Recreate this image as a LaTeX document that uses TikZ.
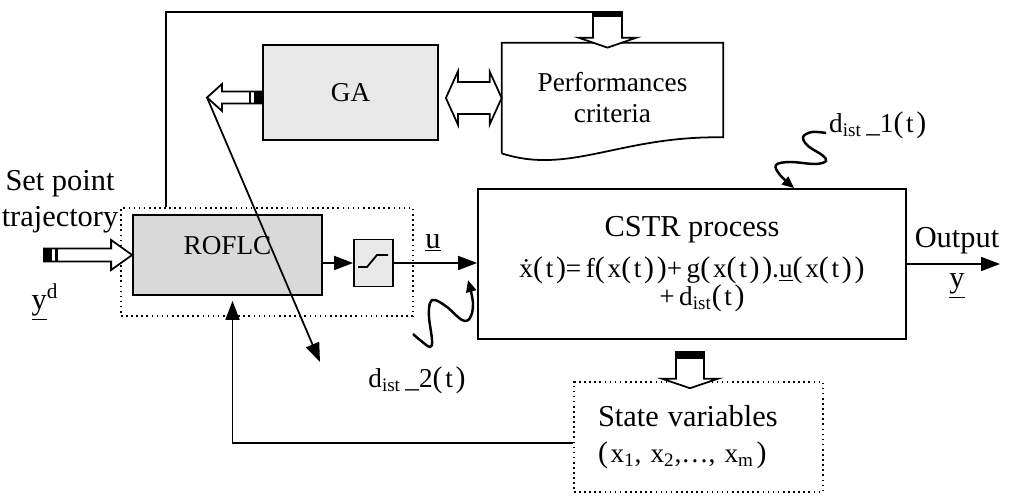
\documentclass[tikz,border=0pt]{standalone}
\usepackage{fontspec}
\setmainfont{Liberation Serif}
\usetikzlibrary{positioning,arrows.meta,calc}
\definecolor{gaFill}{HTML}{E8E8E8}
\definecolor{roflcFill}{HTML}{D9D9D9}
\definecolor{satFill}{HTML}{E8E8E8}
\newcommand{\bigtxt}{\fontsize{17.3}{20.5}\selectfont}
% tall, spaced parentheses of the formulas
\newcommand{\bp}[1]{{\fontsize{17}{17}\selectfont(}\hspace{0.1em}#1\hspace{0.1em}{\fontsize{17}{17}\selectfont)}}

% hollow arrow #1 -> #2 (shaft half width #3, head half width #4, head length #5)
\newcommand{\hollowarrow}[5]{%
  \draw[hollow] ($(#1)!#3!90:(#2)$)
    -- ($(#2)!#5!(#1)!#3!-90:(#1)$)
    -- ($(#2)!#5!(#1)!#4!-90:(#1)$)
    -- (#2)
    -- ($(#2)!#5!(#1)!#4!90:(#1)$)
    -- ($(#2)!#5!(#1)!#3!90:(#1)$)
    -- ($(#1)!#3!-90:(#2)$) -- cycle;}
% same, with a head at both ends
\newcommand{\hollowboth}[5]{%
  \draw[hollow] (#1)
    -- ($(#1)!#5!(#2)!#4!90:(#2)$)
    -- ($(#1)!#5!(#2)!#3!90:(#2)$)
    -- ($(#2)!#5!(#1)!#3!-90:(#1)$)
    -- ($(#2)!#5!(#1)!#4!-90:(#1)$)
    -- (#2)
    -- ($(#2)!#5!(#1)!#4!90:(#1)$)
    -- ($(#2)!#5!(#1)!#3!90:(#1)$)
    -- ($(#1)!#5!(#2)!#3!-90:(#2)$)
    -- ($(#1)!#5!(#2)!#4!-90:(#2)$) -- cycle;}
% black band across a hollow shaft, from #3 to #4 along #1 -> #2
\newcommand{\shaftband}[5]{%
  \fill ($(#1)!#3!(#2)!#5!90:(#2)$) rectangle ($(#1)!#4!(#2)!#5!-90:(#2)$);}

\begin{document}
\begin{tikzpicture}[
    >={Triangle[length=0.38cm,width=0.28cm]},
    font=\fontsize{15.5}{17.6}\selectfont,
    blk/.style={draw,line width=1pt,inner sep=0pt},
    dbox/.style={draw,dotted,line width=0.9pt,inner sep=0pt},
    flow/.style={->,line width=1pt},
    wave/.style={-{Triangle[length=0.24cm,width=0.2cm]},line width=1.4pt},
    hollow/.style={draw,fill=white,line width=1pt,line join=miter},
]
\useasboundingbox (0,0) rectangle (20.18,9.96);

% =====================================================================
%  GA and performance criteria
% =====================================================================
\node[blk,fill=gaFill,minimum width=3.5cm,minimum height=1.9cm] (ga) at (7.01,8.11) {GA};
\node[minimum width=4.42cm,minimum height=2.2cm,align=center] (perf) at (12.25,8.0)
     {Performances\\criteria};
\draw[line width=1pt] (perf.south west) -- (perf.north west) -- (perf.north east)
     -- ([yshift=0.32cm]perf.south east)
     .. controls (12.4,7.25) and (11.4,6.45) .. (perf.south west);

% =====================================================================
%  controller loop: ROFLC + saturation
% =====================================================================
\node[dbox,minimum width=5.84cm,minimum height=2.16cm] (loopbox) at (5.34,4.72) {};
\node[blk,fill=roflcFill,minimum width=3.78cm,minimum height=1.6cm,text depth=0.4cm]
     (roflc) at (4.55,4.86) {ROFLC};
\node[blk,fill=satFill,minimum width=0.78cm,minimum height=0.94cm] (sat) at (7.47,4.70) {};
\draw[line width=1pt] ([shift={(-0.31,-0.08)}]sat.center) -- ++(0.18,0) -- ++(0.2,0.24) -- ++(0.22,0);

% =====================================================================
%  process and state variables
% =====================================================================
\node[blk,minimum width=8.56cm,minimum height=3.0cm,align=center] (cstr) at (13.84,4.68)
     {{\bigtxt CSTR process}\\[0.2cm]
      \.x\bp{t}=\,f\bp{x\bp{t}}+\,g\bp{x\bp{t}}.\underline{u}\bp{x\bp{t}}\\[-0.05cm]
      \hspace{0.4cm}+\,d\textsubscript{ist}\bp{t}};
\node[dbox,minimum width=4.98cm,minimum height=2.2cm,text width=4.02cm,align=left]
     (state) at (13.97,1.22)
     {{\bigtxt State variables}\\[0.1cm]
      \bp{x\textsubscript{1}, x\textsubscript{2},\ldots, x\textsubscript{m}}};

% labels
\node[align=center,font=\bigtxt] (setpt) at (1.2,5.93) {Set point\\trajectory};
\node[font=\bigtxt] (yd) at (0.9,3.92) {\underline{y}\textsuperscript{d}};
\node[font=\bigtxt] (ulab) at (8.66,5.1) {\underline{u}};
\node[font=\bigtxt] (outlab) at (19.14,5.14) {Output};
\node[font=\bigtxt] (ylab) at (19.14,4.24) {\underline{y}};
\node[anchor=west] (d1) at (16.46,7.46) {d\textsubscript{ist}\,\_1\bp{t}};
\node (d2) at (8.34,2.36) {d\textsubscript{ist}\,\_2\bp{t}};

% free ends
\coordinate (inp) at (0.88,4.86);
\coordinate (gaout) at ([yshift=-0.1cm]ga.west);
\coordinate (gatip) at (4.14,8.01);
\coordinate (tune) at (6.40,2.72);
\coordinate (ptop) at (12.15,9.72);
\path (ptop |- perf.north) ++(0,-0.1) coordinate (ptip);
\coordinate (svtop) at (13.8,2.92);
\path (svtop |- state.north) ++(0,-0.14) coordinate (svtip);
\path (ga.east |- perf.west) ++(0.14,0) coordinate (gaR);
\coordinate (out) at (20.0,4.68);
\coordinate (w1) at (16.52,7.30);
\coordinate (w1e) at ([xshift=6.34cm]cstr.north west);
\coordinate (w2) at (8.26,3.28);
\coordinate (w2e) at (9.36,4.36);

% =====================================================================
%  signal flow
% =====================================================================
\draw[flow] (roflc.east |- sat.west) -- (sat.west);
\draw[flow] (sat.east) -- (sat.east -| cstr.west);
\draw[flow] (cstr.east |- out) -- (out);
\draw[flow,shorten >=0.1cm] ([yshift=-0.12cm]state.west) -| ([xshift=0.1cm]roflc.south);

% output of the loop to the criteria
\draw[line width=1pt] ([xshift=-2.02cm]loopbox.north) |- (ptop);
\hollowarrow{ptop}{ptip}{0.29cm}{0.58cm}{0.2cm}
\shaftband{ptop}{ptip}{0cm}{0.1cm}{0.29cm}

% set point into ROFLC
\hollowarrow{inp}{roflc.west}{0.13cm}{0.3cm}{0.42cm}
\shaftband{inp}{roflc.west}{0cm}{0.16cm}{0.13cm}
\shaftband{inp}{roflc.west}{0.22cm}{0.28cm}{0.13cm}

% GA tuning
\hollowarrow{gaout}{gatip}{0.12cm}{0.27cm}{0.3cm}
\shaftband{gaout}{gatip}{0cm}{0.16cm}{0.12cm}
\shaftband{gaout}{gatip}{0.22cm}{0.26cm}{0.12cm}
\hollowboth{gaR}{perf.west}{0.32cm}{0.53cm}{0.24cm}
\draw[flow] (gatip) -- (tune);

% process to state variables
\hollowarrow{svtop}{svtip}{0.28cm}{0.56cm}{0.19cm}
\shaftband{svtop}{svtip}{0cm}{0.14cm}{0.28cm}

% disturbances
\draw[wave] plot[smooth,tension=0.6] coordinates {(w1) (16.24,7.32) (16.06,7.22)
     (16.16,7.04) (16.44,6.86) (16.52,6.74) (16.30,6.68) (15.80,6.72) (15.52,6.66)
     (15.60,6.46) (w1e)};
\draw[wave] plot[smooth,tension=0.6] coordinates {(w2) (8.40,3.16) (8.60,3.02)
     (8.64,3.16) (8.58,3.62) (8.60,3.90) (8.70,3.96) (8.94,3.82) (9.24,3.56)
     (9.40,3.60) (9.46,3.90) (w2e)};

\end{tikzpicture}
\end{document}
